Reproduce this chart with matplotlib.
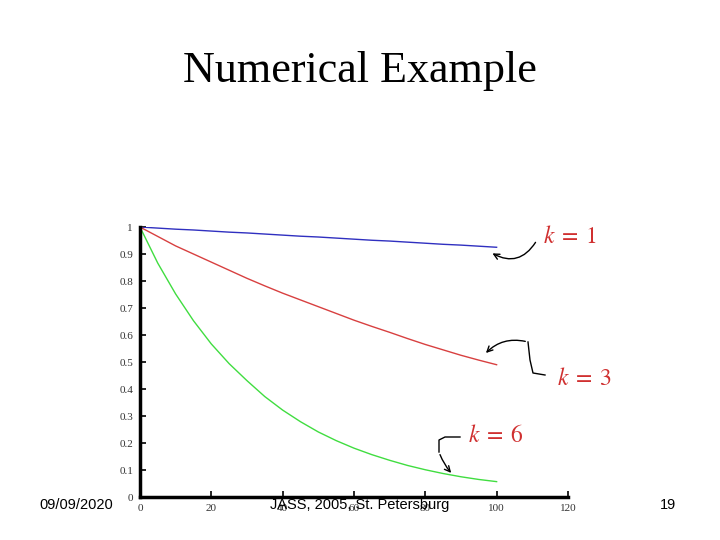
import matplotlib
matplotlib.use("Agg")
import matplotlib.pyplot as plt

x_vals = [0, 5, 10, 15, 20, 25, 30, 35, 40, 45, 50, 55, 60, 65, 70, 75, 80, 85, 90, 95, 100]
k1_vals = [1.0, 0.996, 0.992, 0.989, 0.985, 0.981, 0.978, 0.974, 0.970, 0.966, 0.963,
           0.959, 0.955, 0.951, 0.948, 0.944, 0.940, 0.936, 0.933, 0.929, 0.925]
k3_vals = [1.0, 0.965, 0.93, 0.90, 0.87, 0.84, 0.81, 0.782, 0.755, 0.73, 0.705,
           0.68, 0.655, 0.632, 0.61, 0.587, 0.565, 0.545, 0.525, 0.507, 0.49]
k6_vals = [1.0, 0.866, 0.752, 0.653, 0.567, 0.494, 0.431, 0.372, 0.322, 0.279, 0.241,
           0.209, 0.181, 0.157, 0.136, 0.117, 0.101, 0.087, 0.075, 0.065, 0.057]
x_ticks = [0, 20, 40, 60, 80, 100, 120]
y_ticks = [0, 0.1, 0.2, 0.3, 0.4, 0.5, 0.6, 0.7, 0.8, 0.9, 1]
y_tick_labels = ["0", "0.1", "0.2", "0.3", "0.4", "0.5", "0.6", "0.7", "0.8", "0.9", "1"]

plt.rcParams['mathtext.fontset'] = 'stix'

fig = plt.figure(figsize=(7.2, 5.4), dpi=100)
fig.patch.set_facecolor('white')

ax = fig.add_axes([0.1944, 0.0796, 0.5944, 0.5])
ax.plot(x_vals, k1_vals, color='#3030c0', lw=1.0)
ax.plot(x_vals, k3_vals, color='#d84040', lw=1.0)
ax.plot(x_vals, k6_vals, color='#40dd40', lw=1.0)
ax.set_xlim(0, 120)
ax.set_ylim(0, 1)
ax.set_xticks(x_ticks)
ax.set_xticklabels([str(t) for t in x_ticks], fontsize=8, family='Liberation Serif', color='#333333')
ax.set_yticks(y_ticks)
ax.set_yticklabels(y_tick_labels, fontsize=8, family='Liberation Serif', color='#333333')
ax.tick_params(direction='in', length=4, width=1.2, pad=5)
for s in ['top', 'right']:
    ax.spines[s].set_visible(False)
for s in ['left', 'bottom']:
    ax.spines[s].set_linewidth(2.5)

# Title
fig.text(0.5, 1 - 71/540, "Numerical Example", ha='center', va='center',
         fontsize=31.8, family='Liberation Serif')

# Footer
fig.text(76/720, 1 - 505/540, "09/09/2020", ha='center', va='center', fontsize=10.5, family='Liberation Sans')
fig.text(360/720, 1 - 505/540, "JASS, 2005, St. Petersburg", ha='center', va='center', fontsize=10.5, family='Liberation Sans')
fig.text(668/720, 1 - 505/540, "19", ha='center', va='center', fontsize=10.5, family='Liberation Sans')

# Labels
lab_col = '#d03030'
fig.text(570/720, 1 - 236/540, r"$k\;=\;1$", ha='center', va='center', fontsize=17, color=lab_col)
fig.text(585/720, 1 - 378/540, r"$k\;=\;3$", ha='center', va='center', fontsize=17, color=lab_col)
fig.text(496/720, 1 - 435/540, r"$k\;=\;6$", ha='center', va='center', fontsize=17, color=lab_col)

def fp(px, py):
    return (px/720, 1 - py/540)

# k=1 arrow
fig.add_artist(matplotlib.patches.FancyArrowPatch(fp(537, 240), fp(490, 252),
               transform=fig.transFigure, connectionstyle='arc3,rad=-0.5',
               arrowstyle='->', mutation_scale=10, color='black', lw=1.0))
# k=3 arrow
fig.add_artist(matplotlib.lines.Line2D([545/720, 533/720, 530/720, 528/720], [1-375/540, 1-373/540, 1-360/540, 1-342/540],
                                       transform=fig.transFigure, color='black', lw=1.0))
fig.add_artist(matplotlib.patches.FancyArrowPatch(fp(528, 342), fp(484, 355),
               transform=fig.transFigure, connectionstyle='arc3,rad=0.3',
               arrowstyle='->', mutation_scale=10, color='black', lw=1.0))
# k=6 arrow
fig.add_artist(matplotlib.lines.Line2D([460/720, 445/720, 439/720, 439/720], [1-437/540, 1-437/540, 1-440/540, 1-452/540],
                                       transform=fig.transFigure, color='black', lw=1.0))
fig.add_artist(matplotlib.patches.FancyArrowPatch(fp(439, 452), fp(453, 475),
               transform=fig.transFigure, connectionstyle='arc3,rad=0.1',
               arrowstyle='->', mutation_scale=10, color='black', lw=1.0))

fig.savefig("out.png", dpi=100, facecolor='white')
